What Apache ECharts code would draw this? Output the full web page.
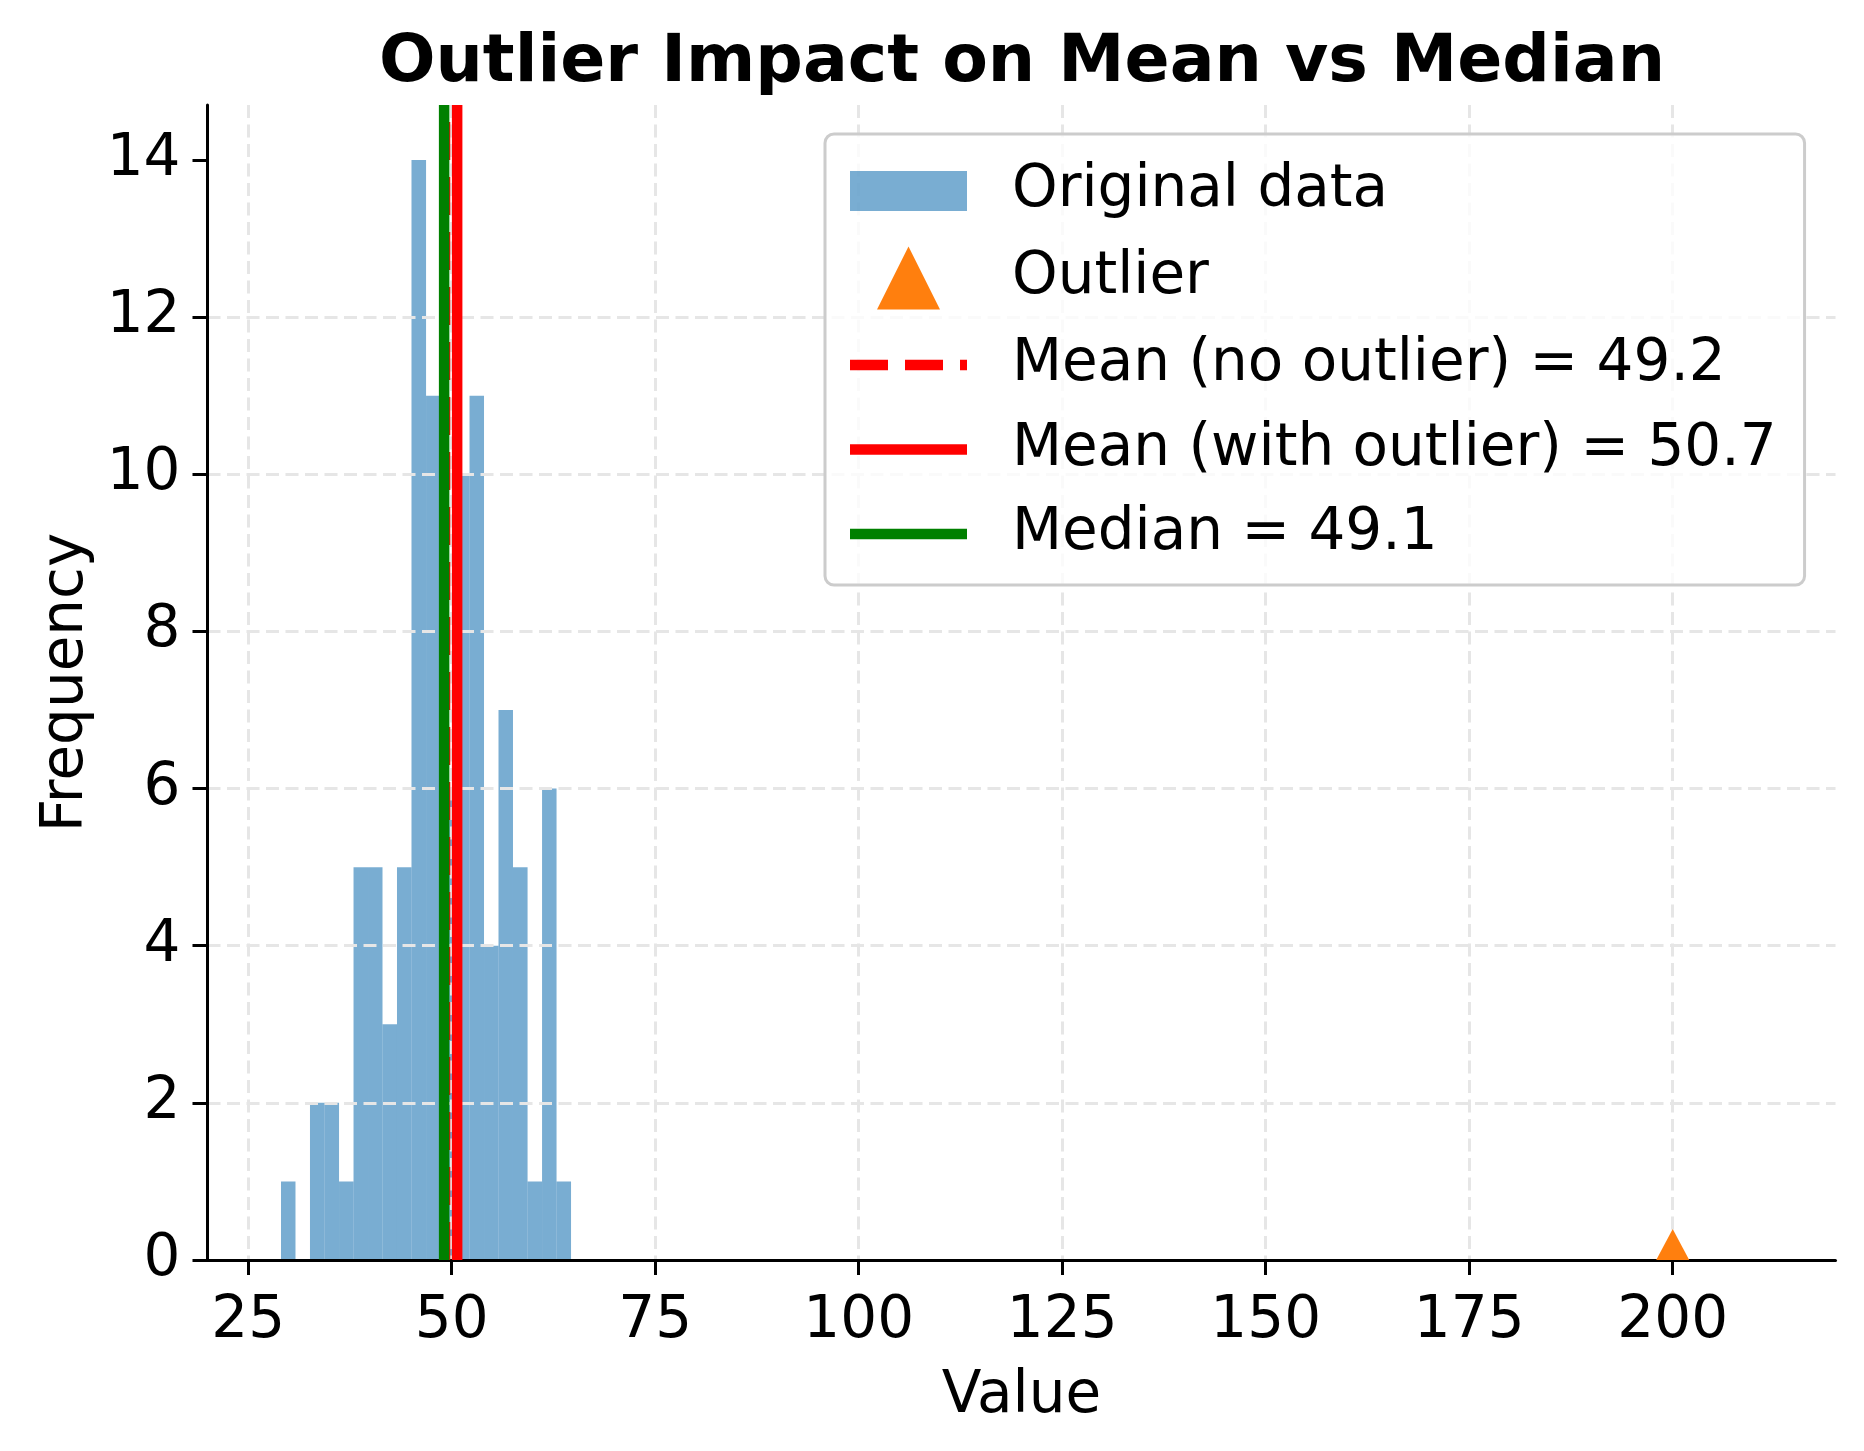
<!DOCTYPE html>
<html><head><meta charset="utf-8">
<script src="https://cdn.jsdelivr.net/npm/echarts@6/dist/echarts.min.js"></script>
<style>html,body{margin:0;padding:0;background:#fff}#chart{width:1864px;height:1451px}</style>
</head><body><div id="chart"></div>
<script>
// ---- data ----
const binEdges = [29.03, 30.81, 32.59, 34.37, 36.16, 37.94, 39.72, 41.50, 43.28, 45.06, 46.85,
                  48.63, 50.41, 52.19, 53.97, 55.75, 57.53, 59.32, 61.10, 62.88, 64.66];
const binCounts = [1, 0, 2, 2, 1, 5, 5, 3, 5, 14, 11, 6, 10, 11, 4, 7, 5, 1, 6, 1];
const outlierPoint = [200, 0];
const meanNoOutlier = 49.18;
const meanWithOutlier = 50.67;
const medianValue = 49.07;
const xTicks = [25, 50, 75, 100, 125, 150, 175, 200];
const yTicks = [0, 2, 4, 6, 8, 10, 12, 14];
const xRange = [20, 220];
const yRange = [0, 14.7];

// ---- styles ----
const FONT = 'DejaVu Sans';
const barColor = 'rgba(31,119,180,0.6)';
const gridLine = { show: true, lineStyle: { color: '#e6e6e6', width: 3, type: [13, 6.5] } };

const labelNo = 'Mean (no outlier) = ' + meanNoOutlier.toFixed(1);
const labelWith = 'Mean (with outlier) = ' + meanWithOutlier.toFixed(1);
const labelMed = 'Median = ' + medianValue.toFixed(1);

const histData = binCounts.map((c, i) => [binEdges[i], binEdges[i + 1], c]);

const chart = echarts.init(document.getElementById('chart'), null, { renderer: 'canvas' });
chart.setOption({
  animation: false,
  backgroundColor: '#ffffff',
  title: {
    text: 'Outlier Impact on Mean vs Median',
    left: 379,
    top: 30,
    padding: 0,
    textStyle: { fontFamily: FONT, fontSize: 66.5, fontWeight: 'bold', color: '#000' }
  },
  grid: { left: 207.5, right: 28.5, top: 105, bottom: 191, containLabel: false },
  xAxis: {
    type: 'value', min: xRange[0], max: xRange[1], z: 1.5,
    name: 'Value', nameLocation: 'middle', nameGap: 108,
    nameTextStyle: { fontFamily: FONT, fontSize: 58, color: '#000' },
    axisLine: { show: true, onZero: false, lineStyle: { color: '#000', width: 3 } },
    axisTick: { show: true, length: 15, lineStyle: { color: '#000', width: 3 }, customValues: xTicks },
    axisLabel: { fontFamily: FONT, fontSize: 58, color: '#000', margin: 33, customValues: xTicks },
    splitLine: gridLine
  },
  yAxis: {
    type: 'value', min: yRange[0], max: yRange[1], z: 1.5,
    name: 'Frequency', nameLocation: 'middle', nameGap: 110,
    nameTextStyle: { fontFamily: FONT, fontSize: 58, color: '#000' },
    axisLine: { show: true, onZero: false, lineStyle: { color: '#000', width: 3 } },
    axisTick: { show: true, length: 15, lineStyle: { color: '#000', width: 3 }, customValues: yTicks },
    axisLabel: { fontFamily: FONT, fontSize: 58, color: '#000', margin: 27, customValues: yTicks },
    splitLine: Object.assign({ showMaxLine: false }, gridLine)
  },
  legend: {
    orient: 'vertical', left: 825, top: 134,
    padding: [28, 28, 22, 25],
    itemWidth: 117, itemHeight: 63, itemGap: 26.5,
    symbolKeepAspect: true,
    backgroundColor: 'rgba(255,255,255,0.8)',
    borderColor: '#cccccc', borderWidth: 3, borderRadius: 9,
    textStyle: { fontFamily: FONT, fontSize: 58, color: '#000', padding: [0, 0, 0, 40] },
    data: [
      { name: 'Original data', icon: 'path://M0,0H117V40H0Z', itemStyle: { color: barColor, borderWidth: 0 } },
      { name: 'Outlier', icon: 'path://M31.5,0L63,63H0Z', itemStyle: { color: '#ff7f0e', borderWidth: 0, opacity: 1 } },
      { name: labelNo, icon: 'path://M0,0H38V10.5H0Z M55,0H93V10.5H55Z M110,0H117V10.5H110Z', itemStyle: { color: '#ff0000', borderWidth: 0 } },
      { name: labelWith, icon: 'path://M0,0H117V10.5H0Z', itemStyle: { color: '#ff0000', borderWidth: 0 } },
      { name: labelMed, icon: 'path://M0,0H117V10.5H0Z', itemStyle: { color: '#008000', borderWidth: 0 } }
    ]
  },
  series: [
    {
      name: 'Original data', type: 'custom', z: 1,
      data: histData, encode: { x: [0, 1], y: 2 },
      itemStyle: { color: barColor },
      renderItem: function (params, api) {
        const top = api.coord([api.value(0), api.value(2)]);
        const base = api.coord([api.value(1), 0]);
        return { type: 'rect', shape: { x: top[0], y: top[1], width: base[0] - top[0], height: base[1] - top[1] },
                 style: { fill: barColor } };
      }
    },
    {
      name: labelNo, type: 'line', z: 3, symbol: 'none', color: '#ff0000',
      data: [[meanNoOutlier, yRange[0]], [meanNoOutlier, yRange[1]]],
      lineStyle: { color: '#ff0000', width: 10.5, type: [38, 17] }
    },
    {
      name: labelWith, type: 'line', z: 3, symbol: 'none', color: '#ff0000',
      data: [[meanWithOutlier, yRange[0]], [meanWithOutlier, yRange[1]]],
      lineStyle: { color: '#ff0000', width: 10.5 }
    },
    {
      name: labelMed, type: 'line', z: 3, symbol: 'none', color: '#008000',
      data: [[medianValue, yRange[0]], [medianValue, yRange[1]]],
      lineStyle: { color: '#008000', width: 10.5 }
    },
    {
      name: 'Outlier', type: 'scatter', z: 4, clip: true,
      data: [outlierPoint], symbol: 'triangle', symbolSize: [33, 31], symbolOffset: [0, '-50%'],
      itemStyle: { color: '#ff7f0e', opacity: 1 }
    }
  ]
});
</script></body></html>
